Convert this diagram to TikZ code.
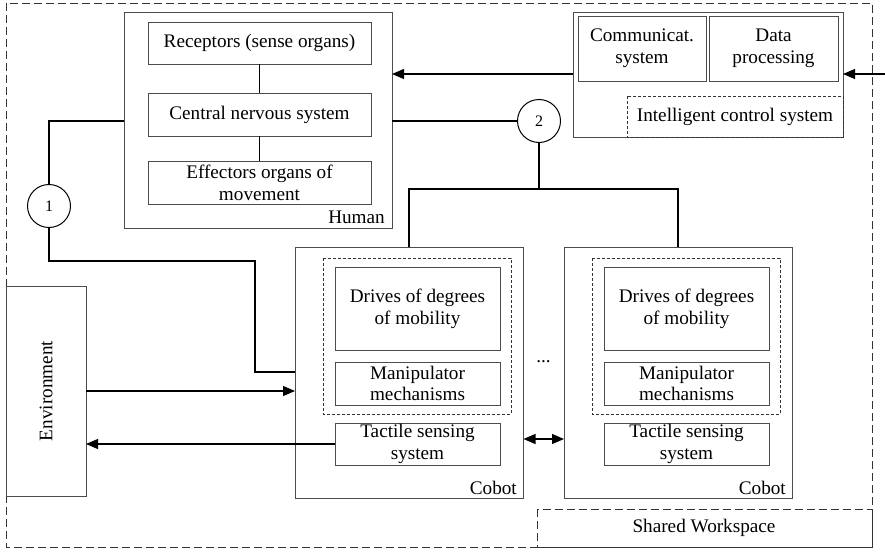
\documentclass[tikz,border=0pt]{standalone}
\usepackage{fontspec}
\setmainfont{Liberation Serif}
\usetikzlibrary{arrows.meta}
\begin{document}
\begin{tikzpicture}[x=1pt,y=-1pt,
  box/.style={draw=black!70,line width=0.9pt},
  dbox/.style={draw=black!80,line width=0.8pt,dash pattern=on 3pt off 2pt},
  wbox/.style={draw=black!80,line width=0.9pt,dash pattern=on 8pt off 4pt},
  wire/.style={draw=black,line width=1.1pt},
  arr/.style={wire,-{Triangle[length=12pt,width=10pt]}},
  darr/.style={wire,{Triangle[length=12pt,width=10pt]}-{Triangle[length=12pt,width=10pt]}},
  num/.style={circle,draw=black,line width=1pt,minimum size=43pt,inner sep=0pt,font=\rmfamily\fontsize{16}{18}\selectfont},
  txt/.style={font=\rmfamily\fontsize{19.2}{21.7}\selectfont,align=center,inner sep=0pt},
]
\useasboundingbox (0,0) rectangle (885,551);

% outer workspace and its label
\draw[wbox] (6,3) rectangle (872,547);
\draw[wbox] (537,509) rectangle (872,547);
\node[txt] (sw) at (704,528) {Shared Workspace};

% human block
\draw[box] (124,12) rectangle (392,228);
\node[coordinate] (humL) at (124,121) {};
\node[coordinate] (humR) at (392,121) {};
\node[coordinate] (humA) at (392,74) {};
\draw[box] (148,22) rectangle (371,64);
\node[txt] (rec) at (259.5,43) {Receptors (sense organs)};
\draw[box] (148,93) rectangle (371,136);
\node[txt] (cns) at (259.5,114.5) {Central nervous system};
\draw[box] (148,161) rectangle (371,204);
\node[txt] (eff) at (259.5,182.5) {Effectors organs of\\movement};
\node[txt,anchor=south east] (hum) at (385,224) {Human};
\draw[wire] (259.5,64) -- (259.5,93);
\draw[wire] (259.5,136) -- (259.5,161);

% intelligent control system
\draw[box] (573,12) rectangle (843,137);
\draw[box] (578,16) rectangle (706,81);
\node[txt] (com) at (642,48.5) {Communicat.\\system};
\draw[box] (709,16) rectangle (838,81);
\node[txt] (dat) at (773.5,48.5) {Data\\processing};
\draw[dbox] (627,96) rectangle (843,137);
\node[txt] (ics) at (735,116.5) {Intelligent control system};
\node[coordinate] (icsL) at (573,74) {};
\node[coordinate] (icsR) at (843,74) {};
\node[coordinate] (ext) at (885,74) {};
\draw[arr] (icsL) -- (humA);
\draw[arr] (ext) -- (icsR);

% interaction points
\node[num] (n1) at (49,206) {1};
\node[num] (n2) at (539,121) {2};

% environment
\draw[box] (6,286) rectangle (86,496);
\node[txt,rotate=90] (env) at (46,391) {Environment};
\node[coordinate] (envA) at (86,391) {};
\node[coordinate] (envB) at (86,444) {};

% cobots
\foreach \i/\x in {1/295,2/564}{
  \begin{scope}[shift={(\x,0)}]
    \draw[box] (0,247) rectangle (228.5,498);
    \draw[dbox] (28,258) rectangle (216,414);
    \draw[box] (40,267) rectangle (205,350);
    \node[txt] (drv\i) at (122.5,308.5) {Drives of degrees\\of mobility};
    \draw[box] (40,362) rectangle (205,405);
    \node[txt] (man\i) at (122.5,383.5) {Manipulator\\mechanisms};
    \draw[box] (40,423) rectangle (205,465);
    \node[txt] (tac\i) at (122.5,444) {Tactile sensing\\system};
    \node[txt,anchor=south east] (cob\i) at (222,495) {Cobot};
  \end{scope}
}
\node[coordinate] (c1L) at (295,391) {};
\node[coordinate] (c1Lb) at (295,372) {};
\node[coordinate] (c1R) at (523.5,439) {};
\node[coordinate] (c2L) at (564,439) {};
\node[coordinate] (c1T) at (409,247) {};
\node[coordinate] (c2T) at (678,247) {};
\node[coordinate] (bus) at (539,189) {};
\node[coordinate] (t1L) at (335,444) {};
\node[txt] (dots) at (543.5,362) {...};

% connectors
\draw[wire] (humL) -| (n1.north);
\draw[wire] (n1.south) |- (255,261) |- (c1Lb);
\draw[wire] (humR) -- (n2.west);
\draw[wire] (n2.south) -- (bus);
\draw[wire] (c1T) |- (bus) -| (c2T);
\draw[arr] (envA) -- (c1L);
\draw[arr] (t1L) -- (envB);
\draw[darr] (c1R) -- (c2L);
\end{tikzpicture}
\end{document}
